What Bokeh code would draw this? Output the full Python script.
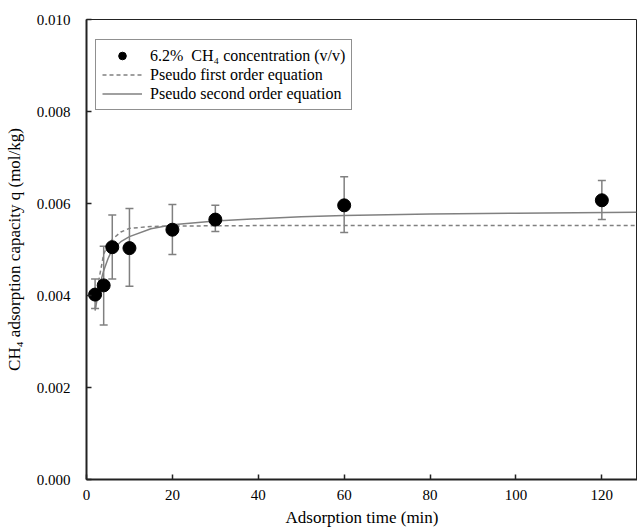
from bokeh.plotting import figure
from bokeh.models import (ColumnDataSource, Whisker, Legend, LegendItem, Range1d,
                          FixedTicker, NumeralTickFormatter)
from bokeh.embed import file_html
from bokeh.resources import INLINE

# measured data
time_min = [2, 4, 6, 10, 20, 30, 60, 120]
q_mean = [0.00402, 0.00422, 0.00505, 0.00503, 0.00543, 0.00565, 0.00596, 0.00607]
q_upper = [0.00436, 0.00507, 0.00575, 0.00589, 0.00598, 0.00596, 0.00658, 0.00650]
q_lower = [0.00372, 0.00336, 0.00436, 0.00420, 0.00489, 0.00539, 0.00537, 0.00565]

# fitted curves
pfo_t = [2, 3, 4, 5, 6, 8, 10, 15, 20, 40, 80, 128]
pfo_q = [0.00370, 0.00440, 0.00490, 0.00510, 0.00522, 0.00538, 0.00546, 0.00550, 0.00551, 0.00552, 0.00552, 0.00552]
pso_t = [2, 3, 4, 5, 6, 8, 10, 15, 20, 30, 40, 50, 60, 80, 100, 128]
pso_q = [0.00367, 0.00420, 0.00454, 0.00480, 0.00500, 0.00517, 0.00528, 0.00545, 0.00554, 0.00562, 0.00567, 0.00571, 0.00574, 0.00577, 0.00579, 0.00581]

x_ticks = [0, 20, 40, 60, 80, 100, 120]
y_ticks = [0.000, 0.002, 0.004, 0.006, 0.008, 0.010]

FONT = "Liberation Serif"
GRAY = "#808080"

p = figure(width=637, height=530, output_backend="svg", toolbar_location=None,
           x_range=Range1d(0, 128.3), y_range=Range1d(0, 0.010),
           min_border_left=86, min_border_right=0, min_border_top=19, min_border_bottom=51)
p.grid.visible = False
p.outline_line_color = "#222222"
p.outline_line_width = 1

src = ColumnDataSource(dict(t=time_min, q=q_mean, up=q_upper, lo=q_lower))

dash_r = p.line(pfo_t, pfo_q, line_color=GRAY, line_width=1.5, line_dash="4 3")
solid_r = p.line(pso_t, pso_q, line_color=GRAY, line_width=1.5)

w = Whisker(source=src, base="t", upper="up", lower="lo", line_color=GRAY, line_width=1.5)
for h in (w.upper_head, w.lower_head):
    h.line_color = GRAY
    h.line_width = 1.5
    h.size = 8
p.add_layout(w)

pts = p.scatter("t", "q", source=src, size=13, fill_color="black", line_color="black")

for ax in (p.xaxis[0], p.yaxis[0]):
    ax.axis_line_color = "#222222"
    ax.axis_line_width = 2
    ax.major_tick_line_color = "#222222"
    ax.major_tick_line_width = 1.5
    ax.major_tick_in = 5
    ax.major_tick_out = 0
    ax.minor_tick_line_color = None
    ax.major_label_text_font = FONT
    ax.major_label_text_font_size = "15px"
    ax.major_label_text_color = "black"
    ax.axis_label_text_font = FONT
    ax.axis_label_text_font_size = "17px"
    ax.axis_label_text_font_style = "normal"
    ax.axis_label_text_color = "black"

p.xaxis.ticker = FixedTicker(ticks=x_ticks)
p.yaxis.ticker = FixedTicker(ticks=y_ticks)
p.yaxis.formatter = NumeralTickFormatter(format="0.000")
p.xaxis.major_label_standoff = 10
p.yaxis.major_label_standoff = 16
p.xaxis.axis_label = "Adsorption time (min)"
p.yaxis.axis_label = "CH\u2084 adsorption capacity q (mol/kg)"
p.xaxis.axis_label_standoff = 5
p.yaxis.axis_label_standoff = 10

legend = Legend(items=[
    LegendItem(label="6.2%  CH\u2084 concentration (v/v)", renderers=[pts]),
    LegendItem(label="Pseudo first order equation", renderers=[dash_r]),
    LegendItem(label="Pseudo second order equation", renderers=[solid_r]),
], location=(9, 369))
legend.label_text_font = FONT
legend.label_text_font_size = "16px"
legend.label_text_color = "black"
legend.border_line_color = "#222222"
legend.border_line_width = 1.5
legend.background_fill_alpha = 1
legend.padding = 6
legend.spacing = 0
legend.margin = 0
legend.label_height = 19
legend.glyph_height = 19
legend.glyph_width = 40
legend.label_standoff = 8
p.add_layout(legend)

open("out.html", "w").write(file_html(p, INLINE))
